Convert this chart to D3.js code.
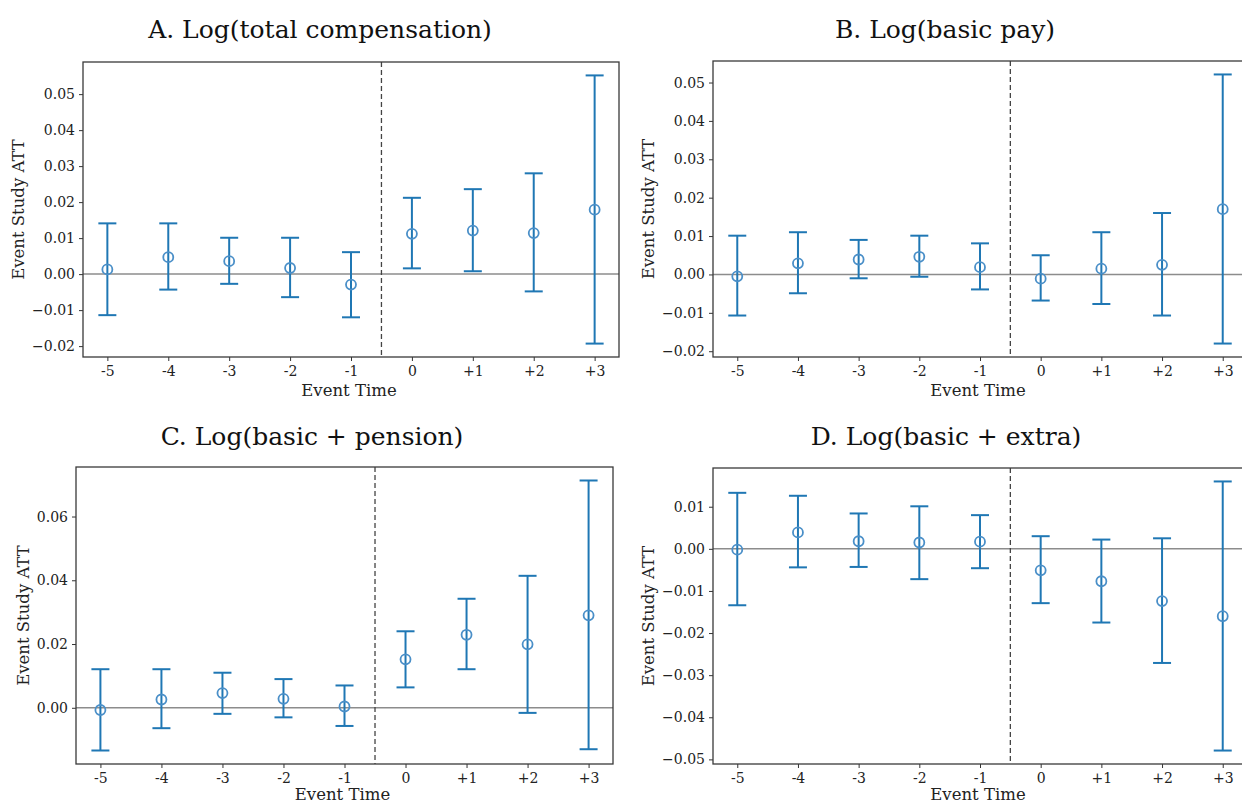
<!DOCTYPE html>
<html lang="en">
<head>
    <meta charset="UTF-8">
    <title>Event study panels</title>
    <script src="https://cdnjs.cloudflare.com/ajax/libs/d3/7.8.5/d3.min.js"></script>
    <style>
        body {
            margin: 0;
            background: #ffffff;
        }
        svg {
            display: block;
            font-family: "DejaVu Serif", serif;
        }
        .tick text {
            font-size: 14px;
            fill: #222;
        }
        .title {
            font-size: 25px;
            fill: #111;
        }
        .axis-label {
            font-size: 16.5px;
            fill: #222;
        }
    </style>
</head>
<body>
<svg width="1242" height="804"></svg>
<script>
// event time categories (shared by all panels)
const eventTimes = ["-5", "-4", "-3", "-2", "-1", "0", "+1", "+2", "+3"];

// A. Log(total compensation)
const totalCompEst   = [0.0013, 0.0047, 0.0036, 0.0017, -0.0029, 0.0112, 0.0121, 0.0114, 0.0179];
const totalCompLower = [-0.0114, -0.0043, -0.0027, -0.0064, -0.0120, 0.0016, 0.0008, -0.0048, -0.0193];
const totalCompUpper = [0.0141, 0.0141, 0.0101, 0.0101, 0.0061, 0.0212, 0.0236, 0.0280, 0.0552];

// B. Log(basic pay)
const basicPayEst   = [-0.0005, 0.0029, 0.0039, 0.0046, 0.0019, -0.0011, 0.0015, 0.0025, 0.0170];
const basicPayLower = [-0.0107, -0.0049, -0.0010, -0.0006, -0.0039, -0.0068, -0.0077, -0.0107, -0.0180];
const basicPayUpper = [0.0101, 0.0110, 0.0090, 0.0101, 0.0081, 0.0050, 0.0110, 0.0160, 0.0521];

// C. Log(basic + pension)
const pensionEst   = [-0.0007, 0.0026, 0.0046, 0.0028, 0.0004, 0.0152, 0.0229, 0.0199, 0.0290];
const pensionLower = [-0.0134, -0.0064, -0.0019, -0.0030, -0.0057, 0.0064, 0.0121, -0.0016, -0.0130];
const pensionUpper = [0.0121, 0.0121, 0.0110, 0.0090, 0.0070, 0.0240, 0.0342, 0.0414, 0.0713];

// D. Log(basic + extra)
const extraEst   = [-0.0002, 0.0039, 0.0018, 0.0015, 0.0017, -0.0051, -0.0077, -0.0124, -0.0160];
const extraLower = [-0.0134, -0.0044, -0.0043, -0.0072, -0.0046, -0.0129, -0.0175, -0.0271, -0.0479];
const extraUpper = [0.0133, 0.0126, 0.0084, 0.0101, 0.0080, 0.0030, 0.0022, 0.0025, 0.0160];

const yTicksA = [-0.02, -0.01, 0, 0.01, 0.02, 0.03, 0.04, 0.05];
const yTicksB = [-0.02, -0.01, 0, 0.01, 0.02, 0.03, 0.04, 0.05];
const yTicksC = [0, 0.02, 0.04, 0.06];
const yTicksD = [-0.05, -0.04, -0.03, -0.02, -0.01, 0, 0.01];

const panels = [
    { title: "A. Log(total compensation)", est: totalCompEst, lo: totalCompLower, hi: totalCompUpper,
      ticks: yTicksA, box: { l: 83, r: 619, t: 62, b: 357 }, titleX: 320, titleY: 38, ylabX: 24, xlabY: 396 },
    { title: "B. Log(basic pay)", est: basicPayEst, lo: basicPayLower, hi: basicPayUpper,
      ticks: yTicksB, box: { l: 713, r: 1247, t: 61, b: 357 }, titleX: 945, titleY: 38, ylabX: 654, xlabY: 396 },
    { title: "C. Log(basic + pension)", est: pensionEst, lo: pensionLower, hi: pensionUpper,
      ticks: yTicksC, box: { l: 76, r: 613, t: 467, b: 764 }, titleX: 312, titleY: 445, ylabX: 29, xlabY: 800 },
    { title: "D. Log(basic + extra)", est: extraEst, lo: extraLower, hi: extraUpper,
      ticks: yTicksD, box: { l: 713, r: 1247, t: 468, b: 764 }, titleX: 946, titleY: 445, ylabX: 654, xlabY: 800 }
];

const svg = d3.select("svg");
const blue = "#1f77b4";
const fmt = v => (v < 0 ? "\u2212" : "") + d3.format(".2f")(Math.abs(v));

panels.forEach(p => {
    const { l, r, t, b } = p.box;
    const g = svg.append("g");

    // x: linear on the index, 0.4 padding like matplotlib's 5% margin
    const x = d3.scaleLinear().domain([-0.4, eventTimes.length - 1 + 0.4]).range([l, r]);
    const yMin = d3.min(p.lo), yMax = d3.max(p.hi);
    const pad = (yMax - yMin) * 0.05;
    const y = d3.scaleLinear().domain([yMin - pad, yMax + pad]).range([b, t]);

    const clipId = "clip" + l + "_" + t;
    svg.append("clipPath").attr("id", clipId)
        .append("rect").attr("x", l).attr("y", t).attr("width", r - l).attr("height", b - t);

    const plot = g.append("g").attr("clip-path", `url(#${clipId})`);

    // zero line
    plot.append("line")
        .attr("x1", l).attr("x2", r)
        .attr("y1", y(0)).attr("y2", y(0))
        .attr("stroke", "#8c8c8c").attr("stroke-width", 1.5);

    // event boundary
    plot.append("line")
        .attr("x1", x(4.5)).attr("x2", x(4.5))
        .attr("y1", t).attr("y2", b)
        .attr("stroke", "#444").attr("stroke-width", 1.3)
        .attr("stroke-dasharray", "5,3");

    const pts = eventTimes.map((e, i) => ({ i, est: p.est[i], lo: p.lo[i], hi: p.hi[i] }));
    const bars = plot.selectAll("g.bar").data(pts).enter().append("g").attr("class", "bar");

    bars.append("line")
        .attr("x1", d => x(d.i)).attr("x2", d => x(d.i))
        .attr("y1", d => y(d.lo)).attr("y2", d => y(d.hi))
        .attr("stroke", blue).attr("stroke-width", 2);

    [d => y(d.lo), d => y(d.hi)].forEach(fy => {
        bars.append("line")
            .attr("x1", d => x(d.i) - 9).attr("x2", d => x(d.i) + 9)
            .attr("y1", fy).attr("y2", fy)
            .attr("stroke", blue).attr("stroke-width", 2);
    });

    bars.append("circle")
        .attr("cx", d => x(d.i)).attr("cy", d => y(d.est))
        .attr("r", 5)
        .attr("fill", "none")
        .attr("stroke", "#4a8fc8").attr("stroke-width", 1.8);

    // axes
    const xAxis = d3.axisBottom(x)
        .tickValues(d3.range(eventTimes.length))
        .tickFormat(i => eventTimes[i])
        .tickSize(4).tickPadding(5).tickSizeOuter(0);
    const yAxis = d3.axisLeft(y)
        .tickValues(p.ticks)
        .tickFormat(fmt)
        .tickSize(4).tickPadding(4).tickSizeOuter(0);

    const gx = g.append("g").attr("transform", `translate(0,${b})`).call(xAxis);
    const gy = g.append("g").attr("transform", `translate(${l},0)`).call(yAxis);
    [gx, gy].forEach(a => {
        a.select(".domain").remove();
        a.selectAll(".tick line").attr("stroke", "#333").attr("stroke-width", 1);
        a.selectAll(".tick text").attr("font-family", "DejaVu Serif, serif");
    });

    // frame
    g.append("rect")
        .attr("x", l).attr("y", t).attr("width", r - l).attr("height", b - t)
        .attr("fill", "none").attr("stroke", "#3a3a3a").attr("stroke-width", 1.3);

    g.append("text").attr("class", "title")
        .attr("x", p.titleX).attr("y", p.titleY)
        .attr("text-anchor", "middle")
        .text(p.title);

    g.append("text").attr("class", "axis-label")
        .attr("x", (l + r) / 2 - 2).attr("y", p.xlabY)
        .attr("text-anchor", "middle")
        .text("Event Time");

    g.append("text").attr("class", "axis-label")
        .attr("transform", `translate(${p.ylabX},${(t + b) / 2}) rotate(-90)`)
        .attr("text-anchor", "middle")
        .text("Event Study ATT");
});
</script>
</body>
</html>
